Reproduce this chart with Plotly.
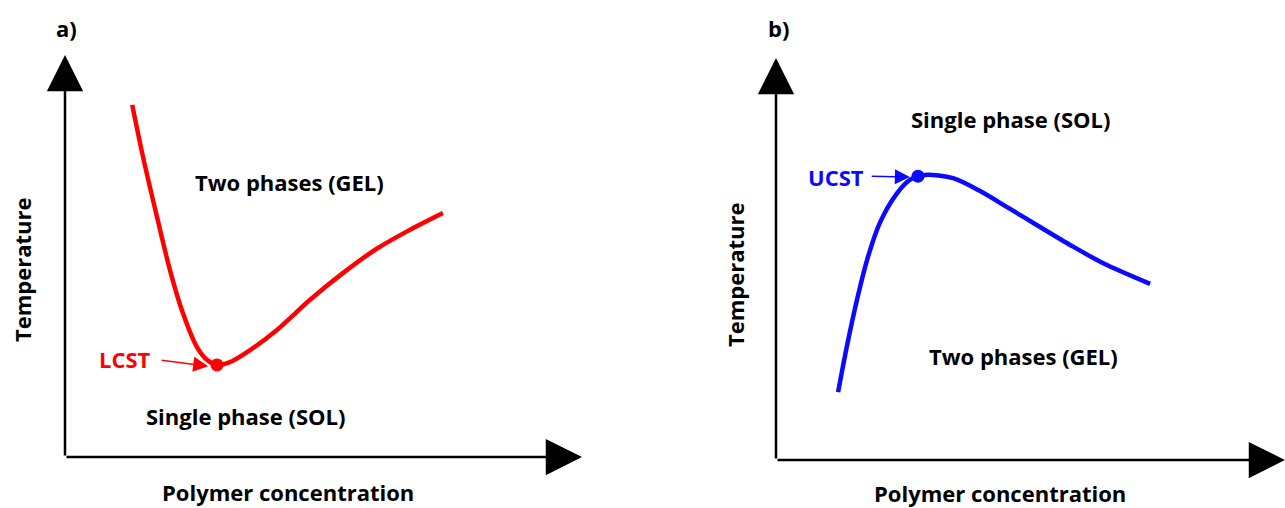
import plotly.graph_objects as go

W, H = 1285, 508

# Panel a (LCST) – concentration vs temperature, arbitrary units 0..100
conc_a = [13.0, 15.1, 17.8, 20.3, 22.8, 25.5, 27.5, 29.4, 31.9, 35.8, 41.0, 47.4, 53.8, 60.3, 66.7, 73.1]
temp_a = [87.6, 74.6, 59.7, 46.5, 35.8, 27.4, 24.1, 22.9, 23.6, 26.6, 31.6, 39.1, 45.8, 51.8, 56.5, 60.7]
lcst = (29.4, 22.9)

# Panel b (UCST)
conc_b = [12.2, 13.9, 15.9, 17.9, 20.4, 23.8, 26.3, 29.3, 34.8, 40.1, 45.4, 51.3, 57.8, 64.2, 73.5]
temp_b = [16.9, 28.1, 39.8, 49.8, 59.0, 66.4, 69.7, 70.9, 70.1, 66.9, 62.9, 58.4, 53.5, 49.0, 43.8]
ucst = (27.9, 70.6)

RED = "#ff0000"
BLUE = "#0a0aff"
FONT = "Open Sans"
FS = 22

fig = go.Figure()
fig.add_trace(go.Scatter(x=conc_a, y=temp_a, mode="lines",
                         line=dict(color=RED, width=4.5, shape="spline", smoothing=0.8),
                         xaxis="x", yaxis="y", hoverinfo="skip"))
fig.add_trace(go.Scatter(x=[lcst[0]], y=[lcst[1]], mode="markers", marker=dict(color=RED, size=13),
                         xaxis="x", yaxis="y", hoverinfo="skip"))
fig.add_trace(go.Scatter(x=conc_b, y=temp_b, mode="lines",
                         line=dict(color=BLUE, width=4.5, shape="spline", smoothing=0.8),
                         xaxis="x2", yaxis="y2", hoverinfo="skip"))
fig.add_trace(go.Scatter(x=[ucst[0]], y=[ucst[1]], mode="markers", marker=dict(color=BLUE, size=13),
                         xaxis="x2", yaxis="y2", hoverinfo="skip"))

ax_common = dict(visible=False, range=[0, 100], fixedrange=True)
fig.update_layout(
    width=W, height=H, margin=dict(l=0, r=0, t=0, b=0),
    paper_bgcolor="white", plot_bgcolor="white", showlegend=False,
    xaxis=dict(domain=[65 / W, 582 / W], anchor="y", **ax_common),
    yaxis=dict(domain=[1 - 457 / H, 1 - 55 / H], anchor="x", **ax_common),
    xaxis2=dict(domain=[776 / W, 1.0], anchor="y2", **ax_common),
    yaxis2=dict(domain=[1 - 460 / H, 1 - 58 / H], anchor="x2", **ax_common),
)

ann = []
# axis arrows
for xr, yr in (("x", "y"), ("x2", "y2")):
    ann.append(dict(x=100, y=0, ax=0, ay=0, xref=xr, yref=yr, axref=xr, ayref=yr, text="",
                    showarrow=True, arrowhead=2, arrowsize=2.9, arrowwidth=2.5, arrowcolor="black"))
    ann.append(dict(x=0, y=100, ax=0, ay=0, xref=xr, yref=yr, axref=xr, ayref=yr, text="",
                    showarrow=True, arrowhead=2, arrowsize=2.9, arrowwidth=2.5, arrowcolor="black"))

def txt(x, y, s, xref, yref, size=FS, color="black", angle=0):
    return dict(x=x, y=y, xref=xref, yref=yref, text="<b>%s</b>" % s, showarrow=False,
                font=dict(family=FONT, size=size, color=color), textangle=angle,
                xanchor="center", yanchor="middle")

# panel a texts
ann.append(txt(66 / W, 1 - 28 / H, "a)", "paper", "paper"))
ann.append(txt(22 / W, 1 - 270 / H, "Temperature", "paper", "paper", angle=-90))
ann.append(txt(288 / W, 1 - 492 / H, "Polymer concentration", "paper", "paper"))
ann.append(txt(43.5, 68.4, "Two phases (GEL)", "x", "y"))
ann.append(txt(35.0, 10.2, "Single phase (SOL)", "x", "y"))
ann.append(txt(11.6, 24.4, "LCST", "x", "y", color=RED))
ann.append(dict(x=27.7, y=22.6, ax=18.4, ay=24.1, xref="x", yref="y", axref="x", ayref="y", text="",
                showarrow=True, arrowhead=2, arrowsize=2, arrowwidth=1.5, arrowcolor=RED))

# panel b texts
ann.append(txt(778 / W, 1 - 28 / H, "b)", "paper", "paper"))
ann.append(txt(735 / W, 1 - 275 / H, "Temperature", "paper", "paper", angle=-90))
ann.append(txt(1000 / W, 1 - 493 / H, "Polymer concentration", "paper", "paper"))
ann.append(txt(46.0, 84.8, "Single phase (SOL)", "x2", "y2"))
ann.append(txt(48.7, 25.9, "Two phases (GEL)", "x2", "y2"))
ann.append(txt(11.8, 70.4, "UCST", "x2", "y2", color=BLUE))
ann.append(dict(x=26.3, y=70.4, ax=18.5, ay=70.6, xref="x2", yref="y2", axref="x2", ayref="y2", text="",
                showarrow=True, arrowhead=2, arrowsize=2, arrowwidth=1.5, arrowcolor=BLUE))

fig.update_layout(annotations=ann)
fig.write_html("out.html")
